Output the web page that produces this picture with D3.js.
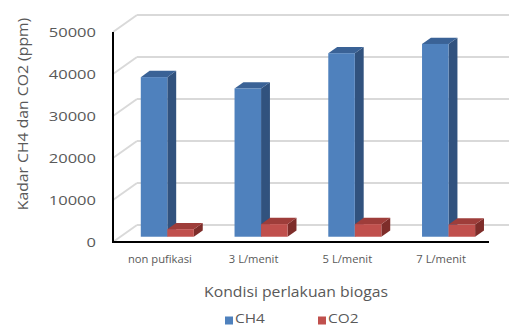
<!DOCTYPE html>
<html>
<head>
<meta charset="utf-8">
<script src="https://cdn.jsdelivr.net/npm/d3@7"></script>
<style>
  html, body { margin: 0; padding: 0; background: #fff; }
  svg { display: block; }
  text { font-family: "Open Sans", sans-serif; fill: #595959; }
</style>
</head>
<body>
<svg id="chart" width="509" height="327"></svg>
<script>
// ---- data ----
const categories = ["non pufikasi", "3 L/menit", "5 L/menit", "7 L/menit"];
const seriesNames = ["CH4", "CO2"];
const ch4Values = [38000, 35300, 43700, 45900];
const co2Values = [1800, 3000, 3000, 2900];
const yTicks = [0, 10000, 20000, 30000, 40000, 50000];
const yTitle = "Kadar CH4 dan CO2 (ppm)";
const xTitle = "Kondisi perlakuan biogas";

// ---- layout ----
const W = 509, H = 327;
const svg = d3.select("#chart");

const plotLeft = 113, plotRight = 488, yBottom = 242, yTop = 32;
const depth = { dx: 24, dy: -17 };       // full floor depth (front -> back wall)
const barFrontT = 0.31, barBackT = 0.68; // bar depth position as fraction of floor depth

const x0 = d3.scaleBand().domain(categories).range([plotLeft, plotRight])
  .paddingInner(0.434).paddingOuter(0.217);
const x1 = d3.scaleBand().domain(seriesNames).range([0, x0.bandwidth()]);
const y = d3.scaleLinear().domain([0, 50000]).range([yBottom, yTop]);

const colors = {
  CH4: { front: "#4F81BD", side: "#31527E", top: "#3A6296" },
  CO2: { front: "#C0504D", side: "#7E2D2A", top: "#9E3D3A" }
};

const gridColor = "#D9D9D9";
const grid = svg.append("g");
// back wall gridlines
grid.selectAll("line.back").data(yTicks).join("line")
  .attr("x1", plotLeft + depth.dx).attr("x2", W + 5)
  .attr("y1", d => y(d) + depth.dy).attr("y2", d => y(d) + depth.dy)
  .attr("stroke", gridColor).attr("stroke-width", 2);
// side wall gridlines
grid.selectAll("line.side").data(yTicks).join("line")
  .attr("x1", plotLeft).attr("x2", plotLeft + depth.dx)
  .attr("y1", d => y(d)).attr("y2", d => y(d) + depth.dy)
  .attr("stroke", gridColor).attr("stroke-width", 2);

// ---- bars ----
const bars = [];
categories.forEach((c, i) => {
  bars.push({ cat: c, s: "CH4", v: ch4Values[i] });
  bars.push({ cat: c, s: "CO2", v: co2Values[i] });
});
const fdx = depth.dx * barFrontT, fdy = depth.dy * barFrontT;
const bdx = depth.dx * barBackT, bdy = depth.dy * barBackT;
const ddx = bdx - fdx, ddy = bdy - fdy;

const gBars = svg.append("g");
bars.forEach(b => {
  const xl = x0(b.cat) + x1(b.s) + fdx;
  const xr = xl + x1.bandwidth();
  const yb = y(0) + fdy;
  const yt = y(b.v) + fdy;
  const c = colors[b.s];
  const g = gBars.append("g");
  g.append("path")
    .attr("d", `M${xr},${yb}L${xr + ddx},${yb + ddy}L${xr + ddx},${yt + ddy}L${xr},${yt}Z`)
    .attr("fill", c.side);
  g.append("path")
    .attr("d", `M${xl},${yt}L${xl + ddx},${yt + ddy}L${xr + ddx},${yt + ddy}L${xr},${yt}Z`)
    .attr("fill", c.top);
  g.append("rect")
    .attr("x", xl).attr("y", yt).attr("width", xr - xl).attr("height", yb - yt)
    .attr("fill", c.front);
});

// ---- axes ----
const yAxis = d3.axisLeft(y).tickValues(yTicks).tickSize(0).tickPadding(17).tickFormat(d3.format("d"));
const gy = svg.append("g").attr("transform", `translate(${plotLeft},0)`).call(yAxis);
gy.select(".domain").remove();
gy.selectAll("text").attr("font-size", 13).attr("fill", "#595959")
  .attr("font-family", "Open Sans, sans-serif");

const xAxis = d3.axisBottom(x0).tickSize(0).tickPadding(14);
const gx = svg.append("g").attr("transform", `translate(0,${yBottom})`).call(xAxis);
gx.select(".domain").remove();
gx.selectAll("text").attr("font-size", 10).attr("fill", "#595959")
  .attr("font-family", "Open Sans, sans-serif");

// axis lines
svg.append("line").attr("x1", plotLeft).attr("x2", plotLeft)
  .attr("y1", y(50000)).attr("y2", yBottom + 1)
  .attr("stroke", "#000").attr("stroke-width", 2);
svg.append("line").attr("x1", plotLeft).attr("x2", plotRight + 1)
  .attr("y1", yBottom).attr("y2", yBottom)
  .attr("stroke", "#000").attr("stroke-width", 2);

// titles
svg.append("text").attr("class", "ytitle")
  .attr("transform", `translate(28,114) rotate(-90)`)
  .attr("text-anchor", "middle").attr("font-size", 15)
  .text(yTitle);
svg.append("text").attr("class", "xtitle")
  .attr("x", 296).attr("y", 297).attr("text-anchor", "middle").attr("font-size", 15)
  .text(xTitle);

// legend
const legendX = { CH4: 225, CO2: 318 };
const gl = svg.append("g");
seriesNames.forEach(s => {
  gl.append("rect").attr("x", legendX[s]).attr("y", 316.5).attr("width", 8).attr("height", 8)
    .attr("fill", colors[s].front);
  gl.append("text").attr("class", "legtext").attr("x", legendX[s] + 10).attr("y", 322.5)
    .attr("font-size", 13.5).text(s);
});

// horizontal stretch to match reference text widths
function stretch(sel, k) {
  sel.each(function () {
    const w = this.getComputedTextLength();
    d3.select(this).attr("textLength", w * k).attr("lengthAdjust", "spacingAndGlyphs");
  });
}
stretch(gy.selectAll("text"), 1.27);
stretch(gx.selectAll("text"), 1.12);
stretch(svg.selectAll("text.ytitle"), 1.05);
stretch(svg.selectAll("text.xtitle"), 1.05);
stretch(svg.selectAll("text.legtext"), 1.14);
</script>
</body>
</html>
